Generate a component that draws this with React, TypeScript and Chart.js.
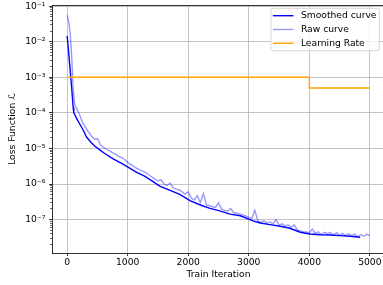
import React, { useEffect, useRef } from 'react';
import { Chart, registerables } from 'chart.js';

Chart.register(...registerables);

const FONT_FAMILY = '"DejaVu Sans", sans-serif';
const FONT_SIZE = 9.2;

// ---- data ----
const smoothIter = [0, 15, 45, 75, 100, 110, 155, 210, 265, 320, 400, 460, 540, 620, 760, 900, 1040, 1150, 1280, 1400, 1530, 1700, 1860, 2030, 2200, 2360, 2520, 2690, 2860, 3000, 3070, 3190, 3350, 3520, 3680, 3850, 4010, 4180, 4340, 4510, 4670, 4840];
const smoothLoss = [1.45e-2, 7.9e-3, 2.0e-3, 5.0e-4, 1.41e-4, 1.0e-4, 7.1e-5, 4.8e-5, 3.3e-5, 2.1e-5, 1.45e-5, 1.15e-5, 9.1e-6, 7.2e-6, 5.1e-6, 3.8e-6, 2.75e-6, 2.14e-6, 1.66e-6, 1.23e-6, 8.7e-7, 6.6e-7, 5.1e-7, 3.4e-7, 2.57e-7, 2.06e-7, 1.76e-7, 1.43e-7, 1.28e-7, 1.03e-7, 9.25e-8, 8.0e-8, 7.2e-8, 6.5e-8, 5.7e-8, 4.4e-8, 3.94e-8, 3.76e-8, 3.7e-8, 3.55e-8, 3.4e-8, 3.18e-8];

const rawIter = [0, 25, 50, 75, 100, 125, 150, 200, 250, 300, 350, 400, 450, 500, 550, 600, 650, 700, 750, 800, 850, 900, 950, 1000, 1050, 1100, 1150, 1200, 1250, 1300, 1350, 1400, 1450, 1500, 1550, 1600, 1650, 1700, 1750, 1800, 1850, 1900, 1950, 2000, 2050, 2100, 2150, 2200, 2250, 2300, 2350, 2400, 2450, 2500, 2550, 2600, 2650, 2700, 2750, 2800, 2850, 2900, 2950, 3000, 3050, 3100, 3150, 3200, 3250, 3300, 3350, 3400, 3450, 3500, 3550, 3600, 3650, 3700, 3750, 3800, 3850, 3900, 3950, 4000, 4050, 4100, 4150, 4200, 4250, 4300, 4350, 4400, 4450, 4500, 4550, 4600, 4650, 4700, 4750, 4800, 4850, 4900, 4950, 5000];
const rawLoss = [5.5e-2, 3.8e-2, 1.78e-2, 4.0e-3, 4.5e-4, 1.74e-4, 1.38e-4, 9.5e-5, 5.6e-5, 4.0e-5, 2.95e-5, 2.24e-5, 1.82e-5, 1.9e-5, 1.26e-5, 1.07e-5, 9.5e-6, 8.5e-6, 7.6e-6, 6.8e-6, 6.0e-6, 5.5e-6, 4.9e-6, 4.07e-6, 3.55e-6, 3.16e-6, 2.75e-6, 2.5e-6, 2.3e-6, 2.1e-6, 1.82e-6, 1.58e-6, 1.38e-6, 1.23e-6, 1.32e-6, 1.0e-6, 9.1e-7, 1.07e-6, 7.8e-7, 7.2e-7, 6.8e-7, 6.0e-7, 5.2e-7, 6.0e-7, 4.0e-7, 3.6e-7, 4.7e-7, 3.0e-7, 5.4e-7, 2.6e-7, 2.45e-7, 2.3e-7, 2.2e-7, 2.95e-7, 2.0e-7, 1.82e-7, 1.74e-7, 2.04e-7, 1.58e-7, 1.51e-7, 1.45e-7, 1.35e-7, 1.26e-7, 1.15e-7, 1.07e-7, 1.82e-7, 9.3e-8, 8.4e-8, 9.2e-8, 8.0e-8, 8.6e-8, 7.6e-8, 1.0e-7, 7.0e-8, 7.6e-8, 6.6e-8, 7.0e-8, 6.1e-8, 7.1e-8, 5.2e-8, 4.8e-8, 4.6e-8, 4.5e-8, 4.3e-8, 5.4e-8, 4.07e-8, 4.5e-8, 3.8e-8, 4.4e-8, 4.0e-8, 4.3e-8, 3.7e-8, 4.3e-8, 3.6e-8, 4.1e-8, 3.55e-8, 4.0e-8, 3.5e-8, 3.9e-8, 3.3e-8, 3.8e-8, 3.4e-8, 3.9e-8, 3.55e-8];

const lrIter = [0, 4000, 5000];
const lrValue = [1e-3, 5e-4, 5e-4];

const xTickValues = [0, 1000, 2000, 3000, 4000, 5000];
const yTickValues = [1e-7, 1e-6, 1e-5, 1e-4, 1e-3, 1e-2, 1e-1];
const yTickLabels = ['10⁻⁷', '10⁻⁶', '10⁻⁵', '10⁻⁴', '10⁻³', '10⁻²', '10⁻¹'];

const seriesLabels = ['Smoothed curve', 'Raw curve', 'Learning Rate'];

const X_MIN = -250;
const X_MAX = 5250;
const Y_MIN = 1.15e-8;
const Y_MAX = 0.108;

function minorTicks() {
  const out: { value: number }[] = [];
  for (let e = -9; e <= 0; e++) {
    for (let k = 2; k <= 9; k++) {
      const v = k * Math.pow(10, e);
      if (v >= Y_MIN && v <= Y_MAX) out.push({ value: v });
    }
  }
  return out;
}

const boxLegend = {
  id: 'boxLegend',
  afterDatasetsDraw(chart: any) {
    const { ctx, chartArea } = chart;
    const ds = chart.data.datasets;
    ctx.save();
    ctx.font = `${FONT_SIZE}px ${FONT_FAMILY}`;
    let textW = 0;
    ds.forEach((d: any) => { textW = Math.max(textW, ctx.measureText(d.label).width); });
    const handle = 20.6;
    const padL = 2;
    const gap = 7.4;
    const padR = 2.8;
    const rowH = 13.8;
    const padV = 7.4;
    const w = padL + handle + gap + textW + padR;
    const h = padV * 2 + rowH * (ds.length - 1);
    const right = chartArea.right - 5.7;
    const top = chartArea.top + 3.3;
    const left = right - w;
    const r = 2;
    ctx.beginPath();
    ctx.moveTo(left + r, top);
    ctx.lineTo(left + w - r, top);
    ctx.quadraticCurveTo(left + w, top, left + w, top + r);
    ctx.lineTo(left + w, top + h - r);
    ctx.quadraticCurveTo(left + w, top + h, left + w - r, top + h);
    ctx.lineTo(left + r, top + h);
    ctx.quadraticCurveTo(left, top + h, left, top + h - r);
    ctx.lineTo(left, top + r);
    ctx.quadraticCurveTo(left, top, left + r, top);
    ctx.closePath();
    ctx.fillStyle = 'rgba(255,255,255,0.8)';
    ctx.fill();
    ctx.strokeStyle = '#cccccc';
    ctx.lineWidth = 0.8;
    ctx.stroke();
    ds.forEach((d: any, i: number) => {
      const y = top + padV + i * rowH;
      ctx.beginPath();
      ctx.strokeStyle = d.borderColor;
      ctx.lineWidth = d.borderWidth;
      ctx.moveTo(left + padL, y);
      ctx.lineTo(left + padL + handle, y);
      ctx.stroke();
      ctx.fillStyle = '#000';
      ctx.textBaseline = 'middle';
      ctx.textAlign = 'left';
      ctx.fillText(d.label, left + padL + handle + gap, y);
    });
    ctx.restore();
  },
};

export default function App() {
  const ref = useRef<HTMLCanvasElement>(null);
  useEffect(() => {
    document.body.style.margin = '0';
    const font = { family: FONT_FAMILY, size: FONT_SIZE };
    const chart = new Chart(ref.current as HTMLCanvasElement, {
      type: 'line',
      data: {
        datasets: [
          {
            label: seriesLabels[0],
            data: smoothIter.map((x, i) => ({ x, y: smoothLoss[i] })),
            borderColor: '#0000ff',
            borderWidth: 1.4,
            pointRadius: 0,
            tension: 0,
            order: 3,
            xAxisID: 'x',
            yAxisID: 'y',
          },
          {
            label: seriesLabels[1],
            data: rawIter.map((x, i) => ({ x, y: rawLoss[i] })),
            borderColor: 'rgba(0,0,255,0.4)',
            borderWidth: 1.4,
            pointRadius: 0,
            tension: 0,
            order: 2,
            xAxisID: 'x',
            yAxisID: 'y',
          },
          {
            label: seriesLabels[2],
            data: lrIter.map((x, i) => ({ x, y: lrValue[i] })),
            borderColor: '#ffa500',
            borderWidth: 1.4,
            pointRadius: 0,
            stepped: 'before',
            order: 1,
            xAxisID: 'x',
            yAxisID: 'y',
          },
        ],
      },
      options: {
        animation: false,
        responsive: false,
        events: [],
        layout: { padding: { left: 0, right: 5, top: 5, bottom: 0 } },
        plugins: { legend: { display: false }, tooltip: { enabled: false } },
        scales: {
          x: {
            type: 'linear',
            position: 'bottom',
            min: X_MIN,
            max: X_MAX,
            afterBuildTicks: (s: any) => { s.ticks = xTickValues.map((v) => ({ value: v })); },
            afterFit: (s: any) => { s.height = 32; s.paddingLeft = 0; s.paddingRight = 0; },
            ticks: { autoSkip: false, maxRotation: 0, padding: 1, color: '#000', font, callback: (v: any) => String(v) },
            grid: { color: '#b0b0b0', lineWidth: 0.75, tickLength: 3, tickColor: '#000', tickWidth: 0.8 },
            border: { color: '#000', width: 0.8 },
            title: { display: true, text: 'Train Iteration', color: '#000', font, padding: { top: 0, bottom: 4.5 } },
          },
          xTop: {
            type: 'linear',
            position: 'top',
            min: X_MIN,
            max: X_MAX,
            ticks: { display: false },
            grid: { drawOnChartArea: false, drawTicks: false },
            border: { color: '#000', width: 0.8 },
            afterFit: (s: any) => { s.height = 0; s.paddingLeft = 0; s.paddingRight = 0; },
          },
          y: {
            type: 'logarithmic',
            position: 'left',
            weight: 1,
            min: Y_MIN,
            max: Y_MAX,
            afterBuildTicks: (s: any) => { s.ticks = yTickValues.map((v) => ({ value: v })); },
            afterFit: (s: any) => { s.width = 52; s.paddingTop = 0; s.paddingBottom = 0; },
            ticks: { autoSkip: false, padding: 3.5, color: '#000', font, callback: (_v: any, i: number) => yTickLabels[i] },
            grid: { color: '#b0b0b0', lineWidth: 0.75, tickLength: 3, tickColor: '#000', tickWidth: 0.8 },
            border: { color: '#000', width: 0.8 },
            title: { display: true, text: 'Loss Function ℒ', color: '#000', font, padding: { top: 7.5, bottom: 0 } },
          },
          yMinor: {
            type: 'logarithmic',
            position: 'left',
            weight: 0,
            min: Y_MIN,
            max: Y_MAX,
            afterBuildTicks: (s: any) => { s.ticks = minorTicks(); },
            afterFit: (s: any) => { s.width = 0; s.paddingTop = 0; s.paddingBottom = 0; },
            ticks: { display: false, autoSkip: false },
            grid: { drawOnChartArea: false, tickLength: 2, tickColor: '#000', tickWidth: 0.6 },
            border: { display: false },
          },
          yRight: {
            type: 'logarithmic',
            position: 'right',
            min: Y_MIN,
            max: Y_MAX,
            ticks: { display: false },
            grid: { drawOnChartArea: false, drawTicks: false },
            border: { color: '#000', width: 0.8 },
            afterFit: (s: any) => { s.width = 0; s.paddingTop = 0; s.paddingBottom = 0; },
          },
        },
      } as any,
      plugins: [boxLegend],
    });
    return () => chart.destroy();
  }, []);
  return (
    <div style={{ width: 383, height: 285, overflow: 'hidden', position: 'relative' }}>
      <canvas ref={ref} width={390} height={285} style={{ display: 'block', width: 390, height: 285 }} />
    </div>
  );
}
